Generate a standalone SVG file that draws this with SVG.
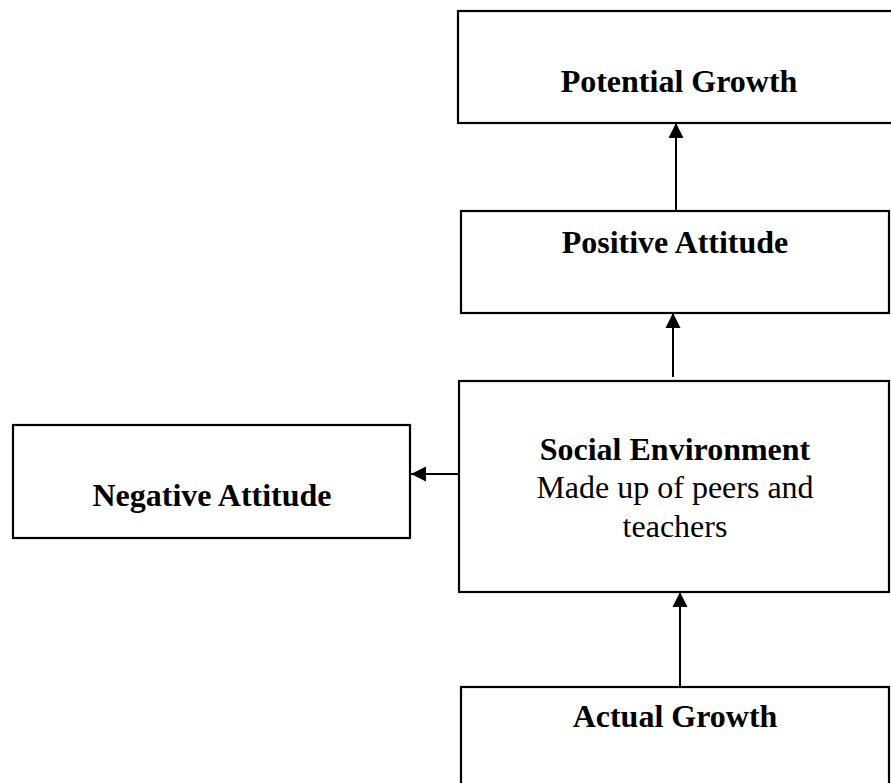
<svg xmlns="http://www.w3.org/2000/svg" width="891" height="783" viewBox="0 0 891 783">
  <style>
    .box { fill: #ffffff; stroke: #000000; stroke-width: 2.2; }
    .link { fill: none; stroke: #000000; stroke-width: 2; }
    .title { font-family: "Liberation Serif", "Times New Roman", serif; font-weight: bold; font-size: 32px; fill: #000000; text-anchor: middle; }
    .body { font-family: "Liberation Serif", "Times New Roman", serif; font-size: 32px; fill: #000000; text-anchor: middle; }
  </style>
  <defs>
    <marker id="head" markerUnits="userSpaceOnUse" markerWidth="16" markerHeight="16" viewBox="0 0 16 16" refX="15" refY="8" orient="auto">
      <path d="M0,0.5 L15,8 L0,15.5 Z" fill="#000000"/>
    </marker>
  </defs>
  <rect width="891" height="783" fill="#ffffff"/>

  <g id="potential-growth">
    <rect class="box" x="458" y="11" width="442" height="112"/>
    <text class="title" x="679" y="92">Potential Growth</text>
  </g>

  <g id="positive-attitude">
    <rect class="box" x="461" y="211" width="428" height="102"/>
    <text class="title" x="675" y="253">Positive Attitude</text>
  </g>

  <g id="negative-attitude">
    <rect class="box" x="13" y="425" width="397" height="113"/>
    <text class="title" x="212" y="506">Negative Attitude</text>
  </g>

  <g id="social-environment">
    <rect class="box" x="459" y="381" width="430" height="211"/>
    <text class="title" x="675" y="460">Social Environment</text>
    <text class="body" x="675" y="498">Made up of peers and</text>
    <text class="body" x="675" y="537">teachers</text>
  </g>

  <g id="actual-growth">
    <rect class="box" x="461" y="687" width="428" height="120"/>
    <text class="title" x="675" y="727">Actual Growth</text>
  </g>

  <g id="connectors">
    <line class="link" x1="676" y1="210" x2="676" y2="123" marker-end="url(#head)"/>
    <line class="link" x1="673" y1="377" x2="673" y2="313" marker-end="url(#head)"/>
    <line class="link" x1="680" y1="687" x2="680" y2="592" marker-end="url(#head)"/>
    <line class="link" x1="459" y1="474" x2="411" y2="474" marker-end="url(#head)"/>
  </g>
</svg>
